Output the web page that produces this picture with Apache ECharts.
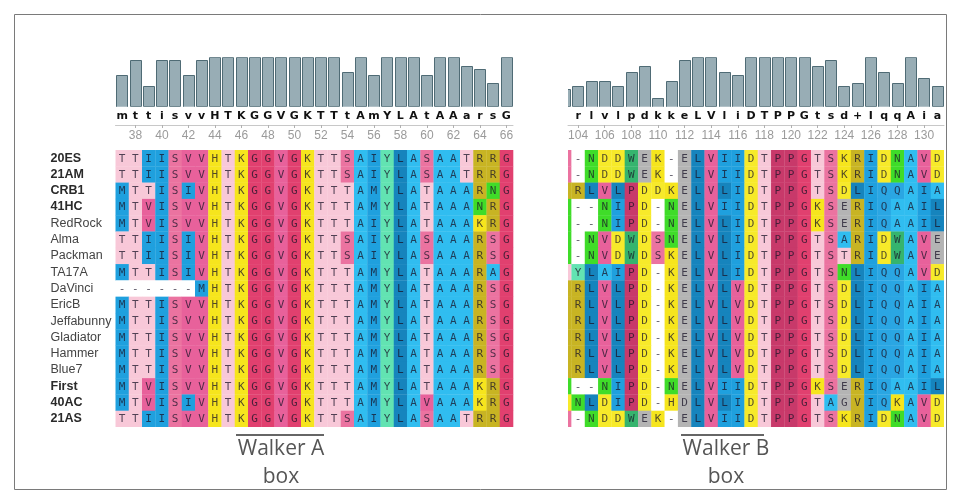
<!DOCTYPE html>
<html><head><meta charset="utf-8">
<script src="https://cdn.jsdelivr.net/npm/echarts@6/dist/echarts.min.js"></script>
<style>html,body{margin:0;padding:0;background:#fff}#c{width:960px;height:504px}</style>
</head><body><div id="c"></div>
<script>
// ---------------- DATA ----------------
const rowNames = ['20ES','21AM','CRB1','41HC','RedRock','Alma','Packman','TA17A','DaVinci','EricB','Jeffabunny','Gladiator','Hammer','Blue7','First','40AC','21AS'];
const boldRows = ['20ES','21AM','CRB1','41HC','First','40AC','21AS'];

// Walker A region, positions 37..66
const leftStart = 37;
const leftConsensus = 'mttisvvHTKGGVGKTTtAmYLAtAAarsG';
const leftConservation = [11,16,7,16,16,11,16,17,17,17,17,17,17,17,17,17,17,12,17,11,17,17,17,11,17,17,14,13,8,17];
const leftTicks = [38,40,42,44,46,48,50,52,54,56,58,60,62,64,66];
const leftSeqs = [
  'TTIISVVHTKGGVGKTTSAIYLASAATRRG',
  'TTIISVVHTKGGVGKTTSAIYLASAATRRG',
  'MTTISIVHTKGGVGKTTTAMYLATAAARNG',
  'MTVISVVHTKGGVGKTTTAMYLATAAANRG',
  'MTVISVVHTKGGVGKTTTAIYLATAAAKRG',
  'TTIISIVHTKGGVGKTTSAIYLASAAARSG',
  'TTIISIVHTKGGVGKTTSAIYLASAAARSG',
  'MTTISIVHTKGGVGKTTTAMYLATAAARAG',
  '------MHTKGGVGKTTTAMYLATAAARSG',
  'MTTISVVHTKGGVGKTTTAMYLATAAARSG',
  'MTTISVVHTKGGVGKTTTAMYLATAAARSG',
  'MTTISVVHTKGGVGKTTTAMYLATAAARSG',
  'MTTISVVHTKGGVGKTTTAMYLATAAARSG',
  'MTTISVVHTKGGVGKTTTAMYLATAAARSG',
  'MTVISVVHTKGGVGKTTTAMYLATAAAKRG',
  'MTVISIVHTKGGVGKTTTAMYLAVAAAKRG',
  'TTIISVVHTKGGVGKTTSAIYLASAATRRG'
];

// Walker B region, positions 103..131 (103 only partly visible)
const rightStart = 103;
const rightConsensus = ' rlvlpdkkeLVliDTPPGtsd+IqqAia';
const rightConservation = [6,7,9,9,7,12,14,3,9,16,17,17,12,11,17,17,17,17,17,14,16,7,8,17,12,8,17,10,7];
const rightTicks = [104,106,108,110,112,114,116,118,120,122,124,126,128,130];
const rightSeqs = [
  'S-NDDWEK-ELVIIDTPPGTSKRIDNAVD',
  'S-NDDWEK-ELVIIDTPPGTSKRIDNAVD',
  'RRLVLPDDKELVLIDTPPGTSDLIQQAIA',
  'N--NIPD-NELVIIDTPPGKSERIQAAIL',
  'N--NIPD-NELVLIDTPPGKSERIQAAIL',
  'N-NVDWDSNELVLIDTPPGTSARIDWAVE',
  'N-NVDWDSKELVLIDTPPGTSTRIDWAVE',
  'TYLAIPD-KELVLIDTPPGTSNLIQQAVD',
  'RRLVLPD-KELVLVDTPPGTSDLIQQAIA',
  'RRLVLPD-KELVLVDTPPGTSDLIQQAIA',
  'RRLVLPD-KELVLVDTPPGTSDLIQQAIA',
  'RRLVLPD-KELVLVDTPPGTSDLIQQAIA',
  'RRLVLPD-KELVLVDTPPGTSDLIQQAIA',
  'RRLVLPD-KELVLVDTPPGTSDLIQQAIA',
  'N--NIPD-NELVIIDTPPGKSERIQAAIL',
  'DNLDIPD-HDLVLIDTPPGTAGVIQKAVD',
  'S-NDDWEK-ELVIIDTPPGTSKRIDNAVD'
];
// a few cells shaded differently from their residue colour: [row, position, colour key]
const colourOverrides = [[15,112,'E'],[15,124,'E'],[15,125,'R']];

// ---------------- STYLE ----------------
const residueColour = {
  'A':'#30bdf0','I':'#1fa0de','M':'#1fa0de','Q':'#2aa6e3','L':'#1684bd',
  'V':'#e8619b','S':'#eb73a0','G':'#e1406f','P':'#c8396a','T':'#f8c8d8',
  'K':'#f6e51d','H':'#f6e51d','D':'#f7ea2a','R':'#c8b423','N':'#3fdc29',
  'E':'#b4b4b4','Y':'#62e3b2','W':'#35b46e','-':'#ffffff'
};

function buildCells(seqs, start) {
  const cells = [];
  seqs.forEach((s, r) => {
    for (let i = 0; i < s.length; i++) {
      const pos = start + i;
      let key = s[i];
      colourOverrides.forEach(o => { if (o[0] === r && o[1] === pos) key = o[2]; });
      cells.push({pos: pos, row: r, ch: s[i], colour: residueColour[key] || '#ffffff'});
    }
  });
  return cells;
}
const leftCells = buildCells(leftSeqs, leftStart);
const rightCells = buildCells(rightSeqs, rightStart);

function makeRender(cells) {
  return function (params, api) {
    const c = cells[params.dataIndex];
    const ctr = api.coord([c.pos, c.row]);
    const a = api.coord([c.pos - 0.5, c.row]);
    const b = api.coord([c.pos + 0.5, c.row]);
    const h = api.size([0, 1])[1];
    return {
      type: 'group',
      children: [
        {type: 'rect', shape: {x: a[0], y: ctr[1] - h / 2, width: b[0] - a[0] + 0.3, height: h + 0.3},
          style: {fill: c.colour}},
        {type: 'text', x: ctr[0], y: ctr[1] + 0.5,
          style: {text: c.ch, fill: 'rgba(25,20,40,0.75)', font: '11px "DejaVu Sans Mono"',
            align: 'center', verticalAlign: 'middle'}}
      ]
    };
  };
}

function renderBar(params, api) {
  const pos = api.value(0), v = api.value(1);
  const top = api.coord([pos - 0.43, v]);
  const bot = api.coord([pos + 0.43, 0]);
  return {
    type: 'rect',
    shape: {x: Math.round(top[0]) + 0.5, y: Math.round(top[1]) + 0.5,
            width: Math.round(bot[0] - top[0]), height: Math.round(bot[1] - top[1])},
    style: {fill: '#98adb5', stroke: '#4f6b75', lineWidth: 1}
  };
}

const L = {left: 115.5, width: 397.5, min: 36.5, max: 66.5};
const R = {left: 568, width: 376, min: 103.24, max: 131.5};
const barTop = 57.3, barH = 49.4, cellTop = 150, cellH = 277;

function consensusAxis(idx, P, start, cons) {
  const vals = [];
  for (let i = 0; i < cons.length; i++) vals.push(start + i);
  return {
    type: 'value', gridIndex: idx, min: P.min, max: P.max,
    axisLine: {show: false}, axisTick: {show: false}, splitLine: {show: false},
    axisLabel: {customValues: vals, margin: 4, color: '#111',
      fontFamily: 'DejaVu Sans', fontWeight: 'bold', fontSize: 11,
      formatter: v => cons[Math.round(v) - start] || ''}
  };
}
function numberAxis(idx, P, ticks) {
  return {
    type: 'value', gridIndex: idx, min: P.min, max: P.max, position: 'top', offset: 25,
    axisLine: {show: true, lineStyle: {color: '#c8c8c8', width: 1}},
    axisTick: {show: true, inside: true, length: 3, customValues: ticks, lineStyle: {color: '#b0b0b0'}},
    axisLabel: {inside: true, margin: 5, customValues: ticks, color: '#9a9a9a',
      fontFamily: 'Liberation Sans', fontSize: 12},
    splitLine: {show: false}
  };
}

const chart = echarts.init(document.getElementById('c'), null, {renderer: 'canvas'});

chart.setOption({
  animation: false,
  backgroundColor: '#ffffff',
  grid: [
    {left: L.left, top: barTop, width: L.width, height: barH},
    {left: L.left, top: cellTop, width: L.width, height: cellH},
    {left: R.left, top: barTop, width: R.width, height: barH},
    {left: R.left, top: cellTop, width: R.width, height: cellH}
  ],
  xAxis: [
    consensusAxis(0, L, leftStart, leftConsensus),
    numberAxis(1, L, leftTicks),
    consensusAxis(2, R, rightStart, rightConsensus),
    numberAxis(3, R, rightTicks)
  ],
  yAxis: [
    {type: 'value', gridIndex: 0, min: 0, max: 17, show: false},
    {type: 'category', gridIndex: 1, data: rowNames, inverse: true,
      axisLine: {show: false}, axisTick: {show: false}, splitLine: {show: false},
      axisLabel: {interval: 0, align: 'left', margin: 65, fontFamily: 'Liberation Sans', fontSize: 12.5,
        formatter: v => boldRows.indexOf(v) >= 0 ? '{b|' + v + '}' : '{n|' + v + '}',
        rich: {b: {fontWeight: 'bold', color: '#2a2a2a', fontFamily: 'Liberation Sans', fontSize: 12.5},
               n: {color: '#444', fontFamily: 'Liberation Sans', fontSize: 12.5}}}},
    {type: 'value', gridIndex: 2, min: 0, max: 17, show: false},
    {type: 'category', gridIndex: 3, data: rowNames, inverse: true, show: false}
  ],
  series: [
    {type: 'custom', xAxisIndex: 0, yAxisIndex: 0, clip: true, renderItem: renderBar,
      data: leftConservation.map((v, i) => [leftStart + i, v])},
    {type: 'custom', xAxisIndex: 1, yAxisIndex: 1, clip: true, renderItem: makeRender(leftCells),
      data: leftCells.map(c => [c.pos, c.row])},
    {type: 'custom', xAxisIndex: 2, yAxisIndex: 2, clip: true, renderItem: renderBar,
      data: rightConservation.map((v, i) => [rightStart + i, v])},
    {type: 'custom', xAxisIndex: 3, yAxisIndex: 3, clip: true, renderItem: makeRender(rightCells),
      data: rightCells.map(c => [c.pos, c.row])}
  ],
  graphic: [
    {type: 'rect', shape: {x: 14.5, y: 14.5, width: 932, height: 475}, style: {fill: 'none', stroke: '#7a7a7a', lineWidth: 1}},
    {type: 'line', shape: {x1: 236, y1: 435, x2: 324, y2: 435}, style: {stroke: '#333', lineWidth: 1.6}},
    {type: 'text', x: 281, y: 449, style: {text: 'Walker A', font: '21px "Open Sans"', fill: '#555', align: 'center', verticalAlign: 'middle'}},
    {type: 'text', x: 281, y: 477, style: {text: 'box', font: '21px "Open Sans"', fill: '#555', align: 'center', verticalAlign: 'middle'}},
    {type: 'line', shape: {x1: 681, y1: 435, x2: 764, y2: 435}, style: {stroke: '#333', lineWidth: 1.6}},
    {type: 'text', x: 726, y: 449, style: {text: 'Walker B', font: '21px "Open Sans"', fill: '#555', align: 'center', verticalAlign: 'middle'}},
    {type: 'text', x: 726, y: 477, style: {text: 'box', font: '21px "Open Sans"', fill: '#555', align: 'center', verticalAlign: 'middle'}}
  ]
});
</script>
</body></html>
